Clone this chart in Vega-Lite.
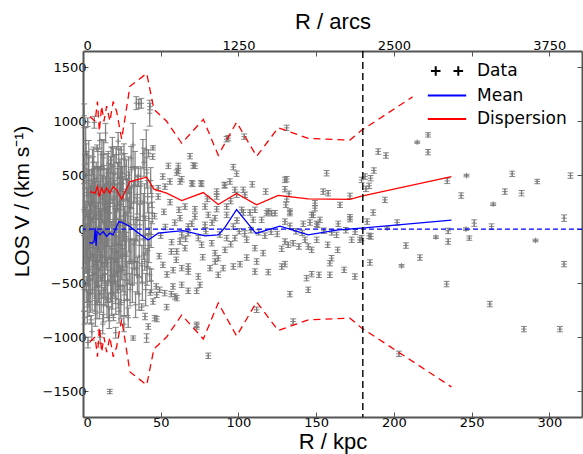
{
  "$schema": "https://vega.github.io/schema/vega-lite/v6.json",
  "width": 499,
  "height": 366,
  "autosize": "none",
  "padding": {"left": 83, "top": 51, "right": 1, "bottom": 37},
  "background": "white",
  "config": {
    "view": {"stroke": null},
    "axis": {
      "domainColor": "#555555", "domainWidth": 2, "tickColor": "#555555", "tickSize": -5, "tickWidth": 1,
      "labelFont": "DejaVu Sans", "labelFontSize": 13, "labelColor": "black",
      "titleFont": "Liberation Sans", "titleFontSize": 22, "titleFontWeight": "normal", "titleColor": "black",
      "grid": false
    }
  },
  "datasets": {
    "pts": [
      {"r":0.8,"v":1050,"e":110},{"r":1.2,"v":560,"e":130},{"r":1.5,"v":-240,"e":160},{"r":1.8,"v":120,"e":140},{"r":2.1,"v":-560,"e":120},
      {"r":2.4,"v":310,"e":200},{"r":2.7,"v":-90,"e":180},{"r":3.0,"v":990,"e":40},{"r":3.3,"v":-380,"e":150},{"r":3.6,"v":450,"e":230},
      {"r":3.9,"v":-700,"e":110},{"r":4.2,"v":40,"e":210},{"r":4.5,"v":-150,"e":250},{"r":4.8,"v":240,"e":160},{"r":1.0,"v":-820,"e":60},
      {"r":2.0,"v":700,"e":90},{"r":3.2,"v":-1050,"e":50},{"r":4.0,"v":-480,"e":190},{"r":0.6,"v":180,"e":240},{"r":2.9,"v":-300,"e":220},
      {"r":5.2,"v":-840,"e":40},{"r":5.5,"v":380,"e":170},{"r":5.8,"v":-120,"e":230},{"r":6.1,"v":620,"e":120},{"r":6.4,"v":-420,"e":180},
      {"r":6.7,"v":90,"e":260},{"r":7.0,"v":-260,"e":200},{"r":7.3,"v":990,"e":55},{"r":7.6,"v":-620,"e":140},{"r":7.9,"v":210,"e":230},
      {"r":8.2,"v":-60,"e":270},{"r":8.5,"v":470,"e":150},{"r":8.8,"v":-330,"e":210},{"r":9.1,"v":750,"e":30},{"r":9.4,"v":-180,"e":190},
      {"r":9.7,"v":330,"e":240},{"r":10.0,"v":-520,"e":160},{"r":5.7,"v":-950,"e":80},{"r":6.9,"v":560,"e":200},{"r":8.0,"v":-780,"e":120},
      {"r":9.9,"v":20,"e":230},{"r":7.7,"v":-410,"e":230},{"r":6.3,"v":250,"e":190},{"r":3.5,"v":-20,"e":200},{"r":6.0,"v":-230,"e":240},
      {"r":0.7,"v":-560,"e":200},{"r":1.1,"v":380,"e":220},{"r":1.4,"v":-60,"e":260},{"r":1.7,"v":820,"e":120},{"r":2.2,"v":-180,"e":230},
      {"r":2.5,"v":530,"e":190},{"r":2.8,"v":-720,"e":150},{"r":3.1,"v":140,"e":240},{"r":3.4,"v":-470,"e":210},{"r":3.7,"v":660,"e":160},
      {"r":4.1,"v":-260,"e":250},{"r":4.4,"v":330,"e":220},{"r":4.7,"v":-600,"e":170},{"r":4.9,"v":-30,"e":260},{"r":5.3,"v":170,"e":250},
      {"r":5.9,"v":-560,"e":190},{"r":6.5,"v":460,"e":210},{"r":7.1,"v":-100,"e":250},{"r":7.5,"v":340,"e":240},{"r":8.3,"v":-500,"e":200},
      {"r":8.7,"v":130,"e":260},{"r":9.2,"v":-290,"e":240},{"r":9.6,"v":560,"e":180},{"r":9.0,"v":-680,"e":150},
      {"r":10.3,"v":160,"e":210},{"r":10.6,"v":-700,"e":130},{"r":10.9,"v":410,"e":170},{"r":11.2,"v":-240,"e":240},{"r":11.5,"v":580,"e":140},
      {"r":11.8,"v":-90,"e":260},{"r":12.1,"v":-450,"e":190},{"r":12.4,"v":280,"e":220},{"r":12.7,"v":-880,"e":90},{"r":13.0,"v":60,"e":250},
      {"r":13.3,"v":690,"e":130},{"r":13.6,"v":-320,"e":200},{"r":13.9,"v":180,"e":240},{"r":14.2,"v":-560,"e":150},{"r":14.5,"v":890,"e":90},
      {"r":14.8,"v":-150,"e":230},{"r":11.0,"v":-1000,"e":60},{"r":12.9,"v":470,"e":190},{"r":14.0,"v":-40,"e":270},{"r":10.8,"v":820,"e":70},
      {"r":11.4,"v":130,"e":260},{"r":13.8,"v":-260,"e":240},
      {"r":10.2,"v":-380,"e":220},{"r":10.7,"v":-60,"e":250},{"r":11.3,"v":320,"e":230},{"r":11.7,"v":-600,"e":170},{"r":12.2,"v":690,"e":140},
      {"r":12.6,"v":-240,"e":240},{"r":13.2,"v":-700,"e":160},{"r":13.5,"v":390,"e":200},{"r":14.1,"v":-420,"e":210},{"r":14.6,"v":250,"e":240},
      {"r":15.0,"v":-90,"e":260},{"r":15.5,"v":520,"e":180},{"r":15.9,"v":-480,"e":200},{"r":16.2,"v":200,"e":240},{"r":17.4,"v":-260,"e":240},
      {"r":17.7,"v":470,"e":200},{"r":18.5,"v":-640,"e":160},{"r":19.2,"v":-200,"e":240},{"r":19.5,"v":580,"e":170},{"r":19.8,"v":-420,"e":200},
      {"r":15.1,"v":350,"e":200},{"r":15.4,"v":-650,"e":170},{"r":15.7,"v":100,"e":260},{"r":16.0,"v":-310,"e":210},{"r":16.3,"v":560,"e":160},
      {"r":16.6,"v":-30,"e":240},{"r":16.9,"v":-820,"e":100},{"r":17.2,"v":-1504,"e":20},{"r":17.5,"v":240,"e":230},{"r":17.8,"v":-470,"e":200},
      {"r":18.1,"v":640,"e":120},{"r":18.4,"v":-180,"e":250},{"r":18.7,"v":420,"e":180},{"r":19.0,"v":-590,"e":150},{"r":19.3,"v":60,"e":220},
      {"r":19.6,"v":-818,"e":30},{"r":19.9,"v":300,"e":210},{"r":16.4,"v":-720,"e":130},{"r":18.9,"v":760,"e":90},{"r":17.0,"v":150,"e":200},
      {"r":16.8,"v":380,"e":230},{"r":18.2,"v":-380,"e":220},
      {"r":20.2,"v":-280,"e":230},{"r":20.5,"v":520,"e":170},{"r":20.8,"v":-60,"e":250},{"r":21.1,"v":-640,"e":150},{"r":21.4,"v":690,"e":75},
      {"r":21.7,"v":190,"e":220},{"r":22.0,"v":-400,"e":190},{"r":22.3,"v":360,"e":200},{"r":22.6,"v":815,"e":80},{"r":22.9,"v":-150,"e":240},
      {"r":23.2,"v":-760,"e":110},{"r":23.5,"v":90,"e":230},{"r":23.8,"v":480,"e":170},{"r":24.1,"v":-520,"e":180},{"r":24.4,"v":230,"e":200},
      {"r":24.6,"v":734,"e":30},{"r":24.9,"v":-250,"e":220},{"r":21.0,"v":-960,"e":50},{"r":23.0,"v":610,"e":140},{"r":24.0,"v":-20,"e":250},
      {"r":21.2,"v":100,"e":240},{"r":22.4,"v":-300,"e":230},{"r":24.2,"v":380,"e":200},
      {"r":20.3,"v":210,"e":240},{"r":20.7,"v":-480,"e":210},{"r":21.5,"v":-200,"e":240},{"r":22.1,"v":420,"e":200},{"r":22.7,"v":-560,"e":170},
      {"r":23.3,"v":250,"e":230},{"r":23.7,"v":-350,"e":210},{"r":24.3,"v":-680,"e":150},{"r":24.8,"v":520,"e":170},{"r":25.5,"v":-150,"e":230},
      {"r":25.9,"v":280,"e":210},{"r":26.4,"v":650,"e":140},{"r":27.0,"v":-420,"e":190},{"r":27.6,"v":150,"e":220},{"r":28.5,"v":-650,"e":150},
      {"r":29.3,"v":500,"e":170},{"r":29.7,"v":-300,"e":210},{"r":30.5,"v":-100,"e":220},{"r":31.2,"v":380,"e":190},{"r":31.8,"v":-520,"e":160},
      {"r":32.5,"v":240,"e":200},{"r":33.0,"v":-300,"e":200},{"r":33.5,"v":560,"e":160},{"r":34.0,"v":-100,"e":210},{"r":34.9,"v":320,"e":180},
      {"r":25.3,"v":420,"e":160},{"r":25.7,"v":-380,"e":200},{"r":26.1,"v":120,"e":230},{"r":26.5,"v":-660,"e":140},{"r":26.9,"v":580,"e":120},
      {"r":27.3,"v":-110,"e":240},{"r":27.9,"v":456,"e":185},{"r":28.3,"v":-480,"e":180},{"r":28.7,"v":260,"e":210},{"r":29.1,"v":-820,"e":90},
      {"r":29.5,"v":40,"e":250},{"r":29.9,"v":340,"e":190},{"r":26.3,"v":-880,"e":70},{"r":28.0,"v":-250,"e":220},{"r":26.7,"v":-20,"e":230},
      {"r":30.3,"v":-560,"e":150},{"r":30.7,"v":200,"e":200},{"r":31.0,"v":658,"e":108},{"r":31.5,"v":-300,"e":210},{"r":32.2,"v":780,"e":200},
      {"r":32.3,"v":-1009,"e":20},{"r":32.8,"v":-140,"e":230},{"r":33.3,"v":410,"e":160},{"r":33.8,"v":-700,"e":120},{"r":34.3,"v":1167,"e":60},
      {"r":34.7,"v":90,"e":200},{"r":35.0,"v":-430,"e":170},
      {"r":36.0,"v":-600,"e":150},{"r":36.5,"v":40,"e":190},{"r":37.2,"v":400,"e":160},{"r":37.9,"v":-320,"e":170},{"r":38.5,"v":700,"e":130},
      {"r":39.0,"v":-100,"e":180},{"r":39.6,"v":250,"e":170},{"r":40.3,"v":-560,"e":150},{"r":41.0,"v":520,"e":140},{"r":41.8,"v":-200,"e":150},
      {"r":42.3,"v":100,"e":140},{"r":43.8,"v":-50,"e":120},{"r":44.2,"v":300,"e":100},
      {"r":35.6,"v":487,"e":92},{"r":35.9,"v":1160,"e":40},{"r":36.2,"v":-250,"e":190},{"r":36.8,"v":260,"e":180},{"r":37.5,"v":1166,"e":45},
      {"r":37.7,"v":-722,"e":30},{"r":38.2,"v":-500,"e":160},{"r":38.8,"v":120,"e":210},{"r":39.3,"v":620,"e":130},{"r":39.9,"v":-809,"e":30},
      {"r":40.0,"v":-60,"e":180},
      {"r":40.7,"v":734,"e":185},{"r":40.9,"v":-1009,"e":40},{"r":41.2,"v":-350,"e":170},{"r":41.6,"v":300,"e":150},{"r":42.0,"v":-902,"e":25},
      {"r":42.1,"v":704,"e":30},{"r":42.5,"v":-150,"e":160},{"r":42.9,"v":1074,"e":120},{"r":43.1,"v":1135,"e":30},{"r":43.3,"v":-587,"e":25},
      {"r":43.5,"v":450,"e":120},{"r":44.0,"v":-480,"e":110},{"r":44.5,"v":150,"e":100},{"r":44.8,"v":672,"e":25},{"r":45.0,"v":753,"e":20},
      {"r":34.3,"v":-361,"e":60},{"r":42.9,"v":-423,"e":60},{"r":39.7,"v":-300,"e":80},

      {"r":47.4,"v":-833,"e":25},{"r":53.8,"v":-722,"e":25},{"r":60.3,"v":-639,"e":25},{"r":47.4,"v":-608,"e":25},{"r":49.3,"v":-562,"e":25},
      {"r":57.9,"v":-531,"e":25},{"r":46.1,"v":-824,"e":25},{"r":51.4,"v":-331,"e":25},{"r":56.8,"v":-207,"e":25},{"r":60.0,"v":-284,"e":25},
      {"r":47.1,"v":-531,"e":25},{"r":52.5,"v":-593,"e":25},{"r":56.8,"v":-602,"e":25},{"r":45.0,"v":-670,"e":25},
      {"r":50,"v":-60,"e":25},{"r":53,"v":20,"e":25},{"r":57,"v":-120,"e":25},{"r":59,"v":60,"e":25},{"r":66,"v":-90,"e":25},
      {"r":70,"v":50,"e":25},{"r":79,"v":-20,"e":25},{"r":83,"v":60,"e":25},{"r":88,"v":-50,"e":25},{"r":95,"v":-140,"e":25},
      {"r":99,"v":80,"e":25},{"r":46,"v":120,"e":25},{"r":52,"v":160,"e":25},{"r":56,"v":250,"e":25},{"r":49,"v":-250,"e":25},
      {"r":54,"v":-420,"e":25},{"r":58,"v":-380,"e":25},{"r":77,"v":-260,"e":25},{"r":80,"v":280,"e":25},{"r":85,"v":-300,"e":25},
      {"r":95,"v":260,"e":25},

      {"r":68.8,"v":676,"e":25},{"r":70.9,"v":589,"e":25},{"r":61.3,"v":586,"e":25},{"r":60.3,"v":524,"e":25},{"r":63.5,"v":463,"e":25},
      {"r":69.9,"v":426,"e":25},{"r":75.9,"v":426,"e":25},{"r":93.4,"v":843,"e":25},{"r":103.7,"v":857,"e":25},{"r":96.7,"v":575,"e":25},
      {"r":98.8,"v":514,"e":25},{"r":94.5,"v":441,"e":25},{"r":90.9,"v":405,"e":25},{"r":108.9,"v":415,"e":25},{"r":86.0,"v":348,"e":25},
      {"r":86.0,"v":302,"e":25},{"r":97.7,"v":364,"e":25},{"r":103.1,"v":364,"e":25},{"r":104.2,"v":318,"e":25},{"r":117.5,"v":348,"e":25},
      {"r":65.6,"v":209,"e":25},{"r":72.0,"v":185,"e":25},{"r":78.5,"v":209,"e":25},{"r":61.7,"v":179,"e":25},{"r":80.6,"v":132,"e":25},
      {"r":72.0,"v":117,"e":25},{"r":86.0,"v":185,"e":25},{"r":92.4,"v":132,"e":25},{"r":84.9,"v":102,"e":25},{"r":62.4,"v":102,"e":25},
      {"r":102.1,"v":179,"e":25},{"r":107.4,"v":154,"e":25},{"r":109.5,"v":86,"e":25},{"r":118.1,"v":148,"e":25},{"r":110.6,"v":179,"e":25},
      {"r":123.5,"v":148,"e":25},{"r":78.5,"v":40,"e":25},{"r":67.7,"v":24,"e":25},{"r":96.7,"v":24,"e":25},{"r":54.9,"v":586,"e":25},
      {"r":61.3,"v":540,"e":25},{"r":72.0,"v":586,"e":25},{"r":55.9,"v":441,"e":25},{"r":51.3,"v":487,"e":25},{"r":48.4,"v":380,"e":25},
      {"r":52.7,"v":394,"e":25},{"r":48.4,"v":302,"e":25},{"r":62.4,"v":441,"e":25},{"r":70.5,"v":419,"e":25},{"r":76.3,"v":419,"e":25},
      {"r":91.3,"v":410,"e":25},{"r":98.8,"v":318,"e":25},{"r":92.4,"v":209,"e":25},{"r":103.1,"v":154,"e":25},{"r":119.2,"v":163,"e":25},
      {"r":114.9,"v":86,"e":25},{"r":92.4,"v":833,"e":25},

      {"r":63.5,"v":-53,"e":25},{"r":67.7,"v":-37,"e":25},{"r":74.2,"v":-83,"e":25},{"r":62.4,"v":-115,"e":25},{"r":65.6,"v":-176,"e":25},
      {"r":60.3,"v":-207,"e":25},{"r":76.3,"v":-145,"e":25},{"r":82.8,"v":-130,"e":25},{"r":92.4,"v":-83,"e":25},{"r":97.7,"v":-83,"e":25},
      {"r":105.3,"v":-99,"e":25},{"r":110.6,"v":-176,"e":25},{"r":115.9,"v":-222,"e":25},{"r":84.9,"v":-222,"e":25},{"r":91.3,"v":-192,"e":25},
      {"r":87.0,"v":-269,"e":25},{"r":105.3,"v":-263,"e":25},{"r":101.0,"v":-324,"e":25},{"r":90.2,"v":-361,"e":25},{"r":96.7,"v":-346,"e":25},
      {"r":81.7,"v":-361,"e":25},{"r":87.0,"v":-423,"e":25},{"r":67.7,"v":-346,"e":25},{"r":67.7,"v":-393,"e":25},{"r":63.5,"v":-361,"e":25},
      {"r":74.2,"v":-439,"e":25},{"r":63.5,"v":-516,"e":25},{"r":67.7,"v":-571,"e":25},{"r":73.1,"v":-571,"e":25},{"r":75.2,"v":-516,"e":25},
      {"r":59.2,"v":-624,"e":25},{"r":73.1,"v":-886,"e":25},{"r":80.6,"v":-1173,"e":25},{"r":73.1,"v":-902,"e":25},{"r":111.7,"v":-747,"e":25},
      {"r":110.6,"v":-393,"e":25},{"r":119.2,"v":-398,"e":25},{"r":111.7,"v":-300,"e":25},

      {"r":100.5,"v":-20,"e":25},{"r":104,"v":-40,"e":25},{"r":108,"v":-10,"e":25},{"r":113,"v":-30,"e":25},{"r":117,"v":-60,"e":25},
      {"r":121,"v":-25,"e":25},{"r":125,"v":-45,"e":25},{"r":137,"v":-20,"e":25},{"r":141,"v":-35,"e":25},{"r":155,"v":-15,"e":25},
      {"r":160,"v":-30,"e":25},{"r":169,"v":-10,"e":25},{"r":175,"v":-25,"e":25},

      {"r":129.9,"v":456,"e":25},{"r":129.9,"v":370,"e":25},{"r":131.0,"v":278,"e":25},{"r":130.5,"v":225,"e":25},{"r":133.1,"v":148,"e":25},
      {"r":121.3,"v":148,"e":25},{"r":149.2,"v":241,"e":25},{"r":149.2,"v":194,"e":25},{"r":156.7,"v":518,"e":25},{"r":154.5,"v":348,"e":25},
      {"r":157.7,"v":333,"e":25},{"r":171.7,"v":308,"e":25},{"r":165.3,"v":225,"e":25},{"r":164.2,"v":49,"e":25},{"r":171.7,"v":93,"e":25},
      {"r":148.1,"v":132,"e":25},{"r":150.3,"v":49,"e":25},{"r":146.0,"v":61,"e":25},{"r":152.4,"v":86,"e":25},{"r":141.7,"v":49,"e":25},
      {"r":131.0,"v":938,"e":25},{"r":131.0,"v":463,"e":25},{"r":132.5,"v":327,"e":25},{"r":133.1,"v":163,"e":25},{"r":129.9,"v":70,"e":25},
      {"r":147.1,"v":132,"e":25},{"r":171.7,"v":111,"e":25},{"r":150.9,"v":40,"e":25},{"r":133.1,"v":31,"e":25},{"r":179.2,"v":456,"e":25},

      {"r":127.8,"v":-182,"e":25},{"r":127.8,"v":-346,"e":25},{"r":129.9,"v":-324,"e":25},{"r":129.9,"v":-115,"e":25},{"r":132.0,"v":-145,"e":25},
      {"r":135.2,"v":-130,"e":25},{"r":138.9,"v":-161,"e":25},{"r":142.8,"v":-99,"e":25},{"r":150.3,"v":-99,"e":25},{"r":144.9,"v":-161,"e":25},
      {"r":147.1,"v":-192,"e":25},{"r":143.8,"v":-454,"e":25},{"r":147.1,"v":-417,"e":25},{"r":151.8,"v":-423,"e":25},{"r":158.8,"v":-423,"e":25},
      {"r":174.9,"v":-439,"e":25},{"r":158.8,"v":-315,"e":25},{"r":159.9,"v":-269,"e":25},{"r":168.0,"v":-377,"e":25},{"r":157.4,"v":-145,"e":25},
      {"r":163.8,"v":-192,"e":25},{"r":163.1,"v":-53,"e":25},{"r":172.8,"v":-99,"e":25},{"r":178.1,"v":-99,"e":25},{"r":133.1,"v":-602,"e":25},
      {"r":144.9,"v":-562,"e":25},{"r":135.2,"v":-856,"e":25},

      {"r":189.9,"v":719,"e":25},{"r":194.9,"v":682,"e":25},{"r":215.0,"v":805,"e":10},{"r":222.0,"v":873,"e":20},{"r":222.0,"v":713,"e":25},
      {"r":181.4,"v":487,"e":25},{"r":185.0,"v":472,"e":25},{"r":187.1,"v":543,"e":25},{"r":182.0,"v":373,"e":25},{"r":194.2,"v":271,"e":25},
      {"r":186.7,"v":154,"e":25},{"r":182.8,"v":70,"e":25},{"r":202.1,"v":61,"e":25},{"r":195.7,"v":9,"e":12},{"r":185.2,"v":-68,"e":25},
      {"r":179.2,"v":-83,"e":25},{"r":184.6,"v":-309,"e":25},{"r":207.7,"v":-152,"e":25},{"r":204.9,"v":-340,"e":12},{"r":216.7,"v":-263,"e":25},
      {"r":227.0,"v":-74,"e":12},{"r":234.9,"v":-16,"e":25},{"r":234.9,"v":-115,"e":25},{"r":234.3,"v":447,"e":25},{"r":233.9,"v":-509,"e":25},
      {"r":243.3,"v":311,"e":25},{"r":246.7,"v":496,"e":12},{"r":246.3,"v":0,"e":12},{"r":248.5,"v":-83,"e":20},{"r":251.7,"v":56,"e":30},
      {"r":261.7,"v":-694,"e":25},{"r":263.9,"v":231,"e":12},{"r":262.8,"v":24,"e":25},{"r":271.4,"v":348,"e":25},{"r":276.1,"v":512,"e":25},
      {"r":282.1,"v":333,"e":25},{"r":283.6,"v":-926,"e":25},{"r":291.1,"v":-105,"e":12},{"r":292.2,"v":441,"e":20},{"r":306.8,"v":-926,"e":25},
      {"r":309.5,"v":102,"e":30},{"r":309.5,"v":-324,"e":25},{"r":313.6,"v":496,"e":25},{"r":203.2,"v":-1155,"e":25},{"r":184.1,"v":401,"e":25},
      {"r":184.1,"v":-62,"e":25}
    ],
    "lines": [
      {"s":"Mean","r":4.0,"v":-124},{"s":"Mean","r":6.0,"v":-130},{"s":"Mean","r":7.2,"v":-110},{"s":"Mean","r":7.8,"v":10},{"s":"Mean","r":8.4,"v":-155},
      {"s":"Mean","r":9.0,"v":-20},{"s":"Mean","r":10.9,"v":-53},{"s":"Mean","r":13.0,"v":-22},{"s":"Mean","r":15.2,"v":-68},{"s":"Mean","r":17.3,"v":-37},
      {"s":"Mean","r":19.4,"v":-53},{"s":"Mean","r":23.0,"v":70},{"s":"Mean","r":26.0,"v":55},{"s":"Mean","r":30.2,"v":24},{"s":"Mean","r":35.0,"v":-30},
      {"s":"Mean","r":42.0,"v":-100},{"s":"Mean","r":48.4,"v":-37},{"s":"Mean","r":56.0,"v":-25},{"s":"Mean","r":64.5,"v":-13},{"s":"Mean","r":78.5,"v":-62},
      {"s":"Mean","r":87.0,"v":-53},{"s":"Mean","r":91.0,"v":10},{"s":"Mean","r":98.8,"v":180},{"s":"Mean","r":111.3,"v":-40},{"s":"Mean","r":126.7,"v":28},
      {"s":"Mean","r":144.9,"v":-53},{"s":"Mean","r":164.2,"v":-6},{"s":"Mean","r":179.2,"v":10},{"s":"Mean","r":237.0,"v":84},
      {"s":"Dispersion","r":4.5,"v":348},{"s":"Dispersion","r":7.8,"v":333},{"s":"Dispersion","r":9.3,"v":394},{"s":"Dispersion","r":10.5,"v":302},
      {"s":"Dispersion","r":12.0,"v":380},{"s":"Dispersion","r":13.5,"v":333},{"s":"Dispersion","r":15.2,"v":380},{"s":"Dispersion","r":17.3,"v":333},
      {"s":"Dispersion","r":19.4,"v":394},{"s":"Dispersion","r":21.6,"v":364},{"s":"Dispersion","r":24.9,"v":278},{"s":"Dispersion","r":30.2,"v":441},
      {"s":"Dispersion","r":41.0,"v":481},{"s":"Dispersion","r":45.6,"v":370},{"s":"Dispersion","r":53.8,"v":333},{"s":"Dispersion","r":63.5,"v":265},
      {"s":"Dispersion","r":77.4,"v":339},{"s":"Dispersion","r":87.0,"v":228},{"s":"Dispersion","r":98.8,"v":330},{"s":"Dispersion","r":111.7,"v":225},
      {"s":"Dispersion","r":125.6,"v":313},{"s":"Dispersion","r":144.9,"v":280},{"s":"Dispersion","r":171.7,"v":275},{"s":"Dispersion","r":179.2,"v":305},
      {"s":"Dispersion","r":237.0,"v":487},
      {"s":"Upper","r":4.5,"v":1044},{"s":"Upper","r":7.8,"v":999},{"s":"Upper","r":9.3,"v":1182},{"s":"Upper","r":10.5,"v":906},
      {"s":"Upper","r":12.0,"v":1140},{"s":"Upper","r":13.5,"v":999},{"s":"Upper","r":15.2,"v":1140},{"s":"Upper","r":17.3,"v":999},
      {"s":"Upper","r":19.4,"v":1182},{"s":"Upper","r":21.6,"v":1092},{"s":"Upper","r":24.9,"v":834},{"s":"Upper","r":30.2,"v":1323},
      {"s":"Upper","r":41.0,"v":1443},{"s":"Upper","r":45.6,"v":1110},{"s":"Upper","r":53.8,"v":999},{"s":"Upper","r":63.5,"v":795},
      {"s":"Upper","r":77.4,"v":1017},{"s":"Upper","r":87.0,"v":684},{"s":"Upper","r":98.8,"v":990},{"s":"Upper","r":111.7,"v":675},
      {"s":"Upper","r":125.6,"v":939},{"s":"Upper","r":144.9,"v":840},{"s":"Upper","r":171.7,"v":825},{"s":"Upper","r":179.2,"v":915},
      {"s":"Upper","r":212.0,"v":1225},
      {"s":"Lower","r":4.5,"v":-1044},{"s":"Lower","r":7.8,"v":-999},{"s":"Lower","r":9.3,"v":-1182},{"s":"Lower","r":10.5,"v":-906},
      {"s":"Lower","r":12.0,"v":-1140},{"s":"Lower","r":13.5,"v":-999},{"s":"Lower","r":15.2,"v":-1140},{"s":"Lower","r":17.3,"v":-999},
      {"s":"Lower","r":19.4,"v":-1182},{"s":"Lower","r":21.6,"v":-1092},{"s":"Lower","r":24.9,"v":-834},{"s":"Lower","r":30.2,"v":-1323},
      {"s":"Lower","r":41.0,"v":-1443},{"s":"Lower","r":45.6,"v":-1110},{"s":"Lower","r":53.8,"v":-999},{"s":"Lower","r":63.5,"v":-795},
      {"s":"Lower","r":77.4,"v":-1017},{"s":"Lower","r":87.0,"v":-684},{"s":"Lower","r":98.8,"v":-990},{"s":"Lower","r":111.7,"v":-675},
      {"s":"Lower","r":125.6,"v":-939},{"s":"Lower","r":144.9,"v":-840},{"s":"Lower","r":171.7,"v":-825},{"s":"Lower","r":179.2,"v":-915},
      {"s":"Lower","r":237.0,"v":-1461}
    ]
  },
  "resolve": {"axis": {"x": "independent", "y": "independent"}},
  "layer": [
    {
      "data": {"name": "pts"},
      "mark": {"type": "errorbar", "ticks": {"size": 6, "thickness": 1}, "rule": {"strokeWidth": 1.3}, "color": "#7a7a7a", "opacity": 0.9},
      "encoding": {
        "x": {"field": "r", "type": "quantitative", "scale": {"domain": [0, 321], "nice": false, "zero": false},
              "axis": {"orient": "bottom", "title": "R / kpc", "values": [0, 50, 100, 150, 200, 250, 300], "format": "d", "labelPadding": 4, "titleY": 31, "titleBaseline": "alphabetic"}},
        "y": {"field": "v", "type": "quantitative", "scale": {"domain": [-1740, 1650], "nice": false, "zero": false},
              "axis": {"orient": "left", "title": "LOS V / (km s⁻¹)", "values": [-1500, -1000, -500, 0, 500, 1000, 1500], "format": "d", "labelPadding": 2, "titleX": -55, "titleY": 150, "titleBaseline": "alphabetic", "titleFontSize": 21}},
        "yError": {"field": "e"}
      }
    },
    {
      "data": {"name": "pts"},
      "mark": {"type": "point", "shape": "M-1,0H1M0,-1V1", "filled": false, "size": 30, "strokeWidth": 1, "color": "#7a7a7a", "opacity": 0.9},
      "encoding": {
        "x": {"field": "r", "type": "quantitative",
              "axis": {"orient": "top", "title": "R / arcs", "values": [0, 50, 100, 150, 200, 250, 300], "labelExpr": "datum.value % 100 === 0 ? format(datum.value * 12.5, 'd') : ''", "labelPadding": 4, "titleY": -23, "titleBaseline": "alphabetic"}},
        "y": {"field": "v", "type": "quantitative",
              "axis": {"orient": "right", "labels": false, "title": null, "values": [-1500, -1000, -500, 0, 500, 1000, 1500]}}
      }
    },
    {
      "data": {"values": [{}]},
      "mark": {"type": "rule", "color": "#0000ff", "strokeDash": [5, 3], "strokeWidth": 1.2},
      "encoding": {"y": {"datum": 0, "type": "quantitative", "axis": null}}
    },
    {
      "data": {"name": "lines"},
      "transform": [{"filter": {"field": "s", "oneOf": ["Mean", "Dispersion"]}}],
      "mark": {"type": "line", "strokeWidth": 1.3},
      "encoding": {
        "x": {"field": "r", "type": "quantitative", "axis": null},
        "y": {"field": "v", "type": "quantitative", "axis": null},
        "color": {"field": "s", "type": "nominal",
                  "scale": {"domain": ["Data", "Mean", "Dispersion"], "range": ["black", "#0000ff", "#ff0000"]},
                  "legend": {"title": null, "orient": "none", "legendX": 351, "legendY": 7, "padding": 0,
                             "symbolType": "M-1.6,0H1.6", "symbolSize": 576, "symbolStrokeWidth": 2,
                             "labelFont": "DejaVu Sans", "labelFontSize": 17, "labelColor": "black", "labelOffset": 17, "rowPadding": 2.5,
                             "encode": {"symbols": {"update": {"shape": {"signal": "datum.value === 'Data' ? 'M-1.34,0H-0.54M-0.94,-0.4V0.4M0.54,0H1.34M0.94,-0.4V0.4' : 'M-1.6,0H1.6'"}}}}}}
      }
    },
    {
      "data": {"name": "lines"},
      "transform": [{"filter": {"field": "s", "oneOf": ["Upper", "Lower"]}}],
      "mark": {"type": "line", "color": "#ff0000", "strokeWidth": 1.3, "strokeDash": [7, 5]},
      "encoding": {
        "x": {"field": "r", "type": "quantitative", "axis": null},
        "y": {"field": "v", "type": "quantitative", "axis": null},
        "detail": {"field": "s"}
      }
    },
    {
      "data": {"values": [{}]},
      "mark": {"type": "rule", "color": "black", "strokeDash": [7, 4], "strokeWidth": 1.4},
      "encoding": {"x": {"datum": 180, "type": "quantitative", "axis": null}}
    }
  ]
}
